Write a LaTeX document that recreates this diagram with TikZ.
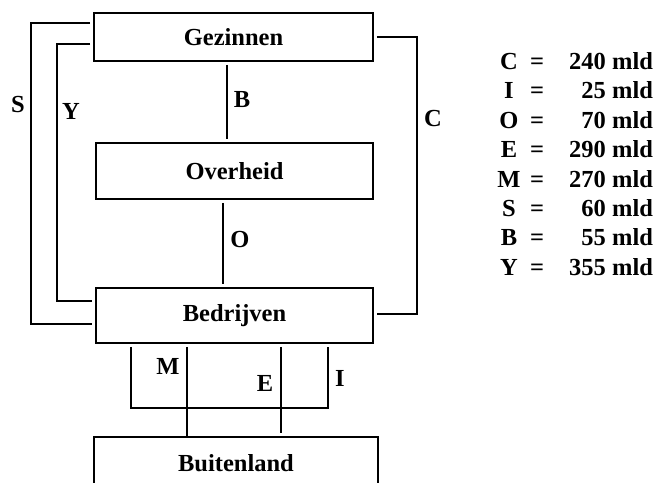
\documentclass[tikz,border=0pt]{standalone}
\usepackage{fontspec}
\setmainfont{Liberation Serif}

\begin{document}
\begin{tikzpicture}[x=1pt,y=-1pt,font=\fontsize{24.5}{27}\selectfont\bfseries,
		box/.style={draw,line width=1.7pt,inner sep=0pt},
		link/.style={line width=1.7pt,shorten <=3pt,shorten >=3pt}]
		\useasboundingbox (0,0) rectangle (656,482);
		\clip (0,0) rectangle (656,482);
		\node[box,minimum width=279pt,minimum height=48pt] (gez) at (233.5,37) {Gezinnen};
		\node[box,minimum width=277pt,minimum height=56pt] (ovh) at (234.5,171) {Overheid};
		\node[box,minimum width=277pt,minimum height=55pt] (bed) at (234.5,315.5) {Bedrijven};
		\node[box,minimum width=284pt,minimum height=52pt] (bui) at (236,463) {Buitenland};
		\coordinate (xB) at (227,0);
		\coordinate (xO) at (223,0);
		\coordinate (xM) at (187,0);
		\coordinate (xE) at (281,0);
		\coordinate (xL) at (131,0);
		\coordinate (loop) at (328,408);
		\draw[link] ([yshift=14pt]gez.west) -- ++(-62,0) |- ([yshift=-8.5pt]bed.west);
		\draw[link] ([yshift=-7pt]gez.west) -- ++(-36,0) |- ([yshift=14.5pt]bed.west);
		\draw[link] (gez.east) -- ++(43,0) |- ([yshift=1.5pt]bed.east);
		\draw[link] (gez.south -| xB) -- (ovh.north -| xB);
		\draw[link] (ovh.south -| xO) -- (bed.north -| xO);
		\draw[link] (bed.south -| xL) |- (loop) -- (bed.south -| loop);
		\draw[link,shorten >=0pt] (bed.south -| xM) -- (bui.north -| xM);
		\draw[link] (bed.south -| xE) -- (bui.north -| xE);
		\node (lS) at (18,105) {S};
		\node (lY) at (71,111) {Y};
		\node (lC) at (433,119) {C};
		\node (lB) at (242,100) {B};
		\node (lO) at (240,240) {O};
		\node (lM) at (168,366) {M};
		\node (lE) at (265,383) {E};
		\node (lI) at (340,378) {I};
		\foreach \k/\v [count=\i from 0] in {C/240,I/25,O/70,E/290,M/270,S/60,B/55,Y/355} {
			\node[anchor=base] (key\i) at (509,69.5+29.4*\i) {\k};
			\node[anchor=base] (eq\i) at (537,69.5+29.4*\i) {=};
			\node[anchor=base east,inner xsep=0pt] (val\i) at (606,69.5+29.4*\i) {\v};
			\node[anchor=base west,inner xsep=0pt] (unit\i) at (612,69.5+29.4*\i) {mld};
		}
	\end{tikzpicture}
\end{document}
